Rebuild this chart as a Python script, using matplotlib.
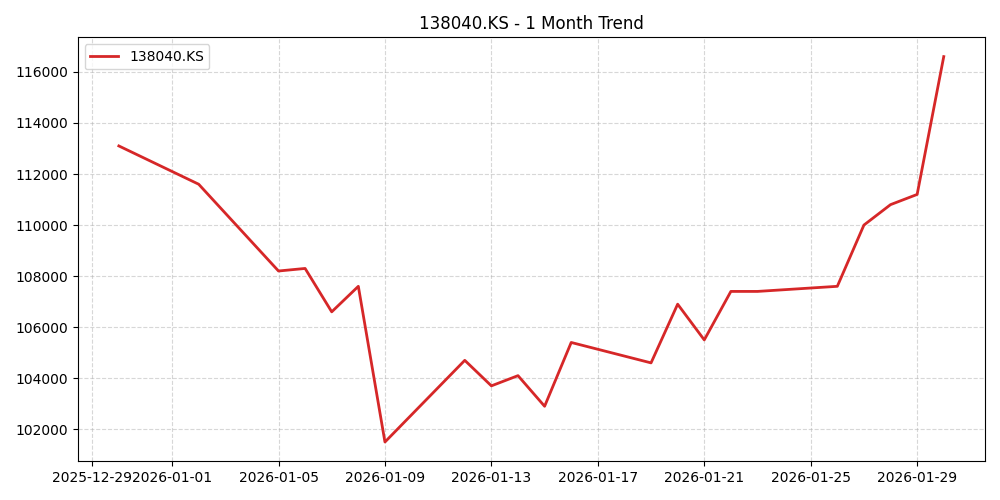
import matplotlib
matplotlib.use("Agg")
import matplotlib.pyplot as plt
import matplotlib.dates as mdates
import pandas as pd

dates = ["2025-12-30","2026-01-02","2026-01-05","2026-01-06","2026-01-07","2026-01-08","2026-01-09",
         "2026-01-12","2026-01-13","2026-01-14","2026-01-15","2026-01-16","2026-01-19","2026-01-20",
         "2026-01-21","2026-01-22","2026-01-23","2026-01-26","2026-01-27","2026-01-28","2026-01-29","2026-01-30"]
prices = [113100,111600,108200,108300,106600,107600,101500,104700,103700,104100,102900,105400,
          104600,106900,105500,107400,107400,107600,110000,110800,111200,116600]

x = pd.to_datetime(dates)
fig, ax = plt.subplots(figsize=(10, 5), dpi=100)
ax.plot(x, prices, color="#d62728", linewidth=2, label="138040.KS")
ax.set_title("138040.KS - 1 Month Trend")
ax.xaxis.set_major_locator(mdates.DayLocator(bymonthday=[1,5,9,13,17,21,25,29]))
ax.xaxis.set_major_formatter(mdates.DateFormatter("%Y-%m-%d"))
ax.set_xticks(pd.to_datetime(["2025-12-29","2026-01-01","2026-01-05","2026-01-09","2026-01-13",
                              "2026-01-17","2026-01-21","2026-01-25","2026-01-29"]))
ax.grid(True, linestyle="--", alpha=0.5)
ax.legend(loc="upper left")
fig.tight_layout()
fig.savefig("out.png")
